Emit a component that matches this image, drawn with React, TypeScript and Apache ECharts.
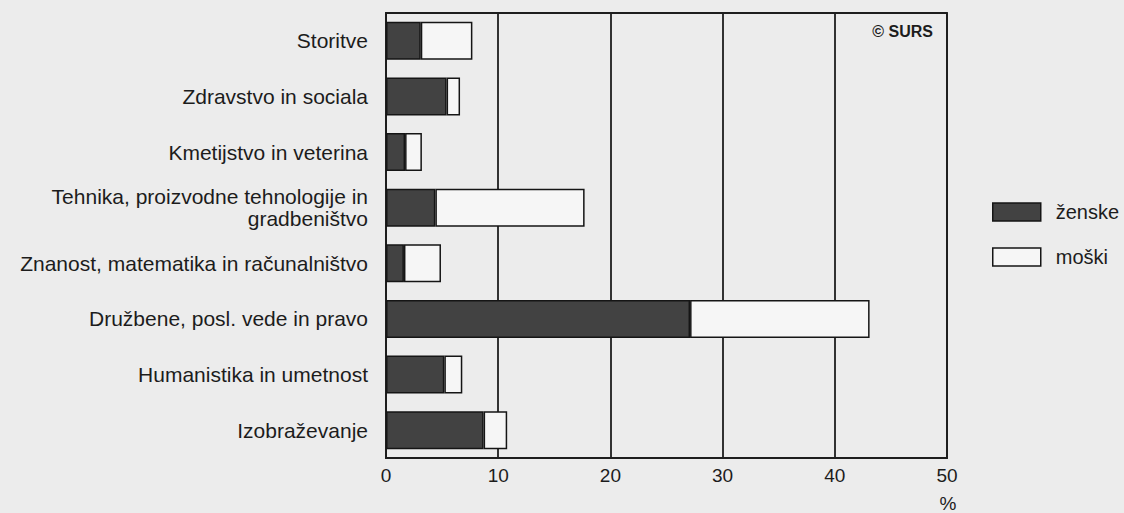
import React, { useEffect, useRef } from "react";
import * as echarts from "echarts";

const categories = [
  "Storitve",
  "Zdravstvo in sociala",
  "Kmetijstvo in veterina",
  "Tehnika, proizvodne tehnologije in\ngradbeništvo",
  "Znanost, matematika in računalništvo",
  "Družbene, posl. vede in pravo",
  "Humanistika in umetnost",
  "Izobraževanje",
];
const zenske = [3.1, 5.4, 1.7, 4.4, 1.6, 27.1, 5.2, 8.7];
const moski = [4.6, 1.2, 1.5, 13.3, 3.3, 16.0, 1.6, 2.1];
const seriesNames = ["ženske", "moški"];
const xMin = 0;
const xMax = 50;
const xInterval = 10;

const FONT = "'Liberation Sans', Arial, Helvetica, sans-serif";
const TEXT = "#1c1c1c";

export default function App() {
  const ref = useRef<HTMLDivElement>(null);
  useEffect(() => {
    if (!ref.current) return;
    const chart = echarts.init(ref.current, undefined, { renderer: "svg" });
    chart.setOption({
      animation: false,
      backgroundColor: "#ececec",
      textStyle: { fontFamily: FONT },
      grid: {
        left: 386,
        right: 177,
        top: 13,
        bottom: 55,
        show: true,
        borderColor: "#1e1e1e",
        borderWidth: 1.8,
        backgroundColor: "transparent",
      },
      legend: {
        orient: "vertical",
        left: 987,
        top: 195,
        icon: "rect",
        itemWidth: 48,
        itemHeight: 18,
        itemGap: 21,
        data: seriesNames,
        itemStyle: { borderColor: "#151515", borderWidth: 1.5 },
        textStyle: {
          fontFamily: FONT,
          fontSize: 20,
          lineHeight: 24,
          color: TEXT,
          padding: [0, 0, 0, 10],
        },
      },
      xAxis: {
        type: "value",
        min: xMin,
        max: xMax,
        interval: xInterval,
        axisLine: { show: true, lineStyle: { color: "#1e1e1e", width: 1.8 } },
        axisTick: { show: false },
        splitLine: { show: true, lineStyle: { color: "#1e1e1e", width: 1.8 } },
        axisLabel: {
          fontFamily: FONT,
          fontSize: 19,
          color: TEXT,
          margin: 8,
        },
      },
      yAxis: {
        type: "category",
        inverse: true,
        data: categories,
        axisLine: { show: true, lineStyle: { color: "#1e1e1e", width: 1.8 } },
        axisTick: { show: false },
        axisLabel: {
          fontFamily: FONT,
          fontSize: 21,
          color: TEXT,
          margin: 18,
          lineHeight: 22,
          align: "right",
        },
      },
      series: [
        {
          name: seriesNames[0],
          type: "bar",
          stack: "total",
          barWidth: 38,
          data: zenske,
          itemStyle: { color: "#424242", borderColor: "#151515", borderWidth: 1.5 },
        },
        {
          name: seriesNames[1],
          type: "bar",
          stack: "total",
          barWidth: 38,
          data: moski,
          itemStyle: { color: "#f6f6f6", borderColor: "#151515", borderWidth: 1.5 },
        },
      ],
      graphic: [
        {
          type: "text",
          x: 933,
          y: 31,
          style: {
            text: "© SURS",
            fontFamily: FONT,
            fontSize: 16,
            fontWeight: "bold",
            fill: TEXT,
            align: "right",
            verticalAlign: "middle",
          },
        },
        {
          type: "text",
          x: 948,
          y: 503,
          style: {
            text: "%",
            fontFamily: FONT,
            fontSize: 19,
            fill: TEXT,
            align: "center",
            verticalAlign: "middle",
          },
        },
      ],
    });
    return () => chart.dispose();
  }, []);
  return (
    <div
      ref={ref}
      style={{ position: "fixed", left: 0, top: 0, width: 1124, height: 513 }}
    />
  );
}
